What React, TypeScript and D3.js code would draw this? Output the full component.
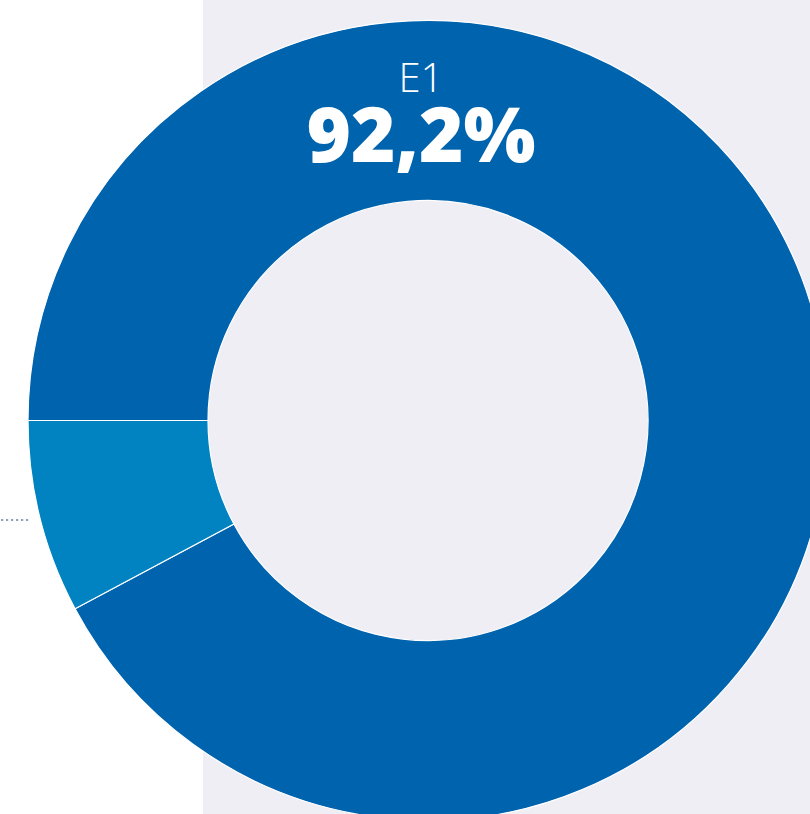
import React from "react";
import * as d3 from "d3";

const categories = ["E1", "Other"];
const values = [92.2, 7.8];
const colors = ["#0063AE", "#0083C0"];
const labelTitle = "E1";
const labelValue = "92,2%";

export default function App() {
  const W = 810, H = 814;
  const cx = 428, cy = 420.5, rO = 400, rI = 220;
  const pie = d3.pie<number>().sort(null).startAngle(1.5 * Math.PI).endAngle(3.5 * Math.PI);
  const arcs = pie(values);
  const arc = d3.arc<d3.PieArcDatum<number>>().innerRadius(rI).outerRadius(rO);
  return (
    <svg width={W} height={H} style={{ position: "absolute", left: 0, top: 0, display: "block" }}>
      <rect x={0} y={0} width={W} height={H} fill="#ffffff" />
      <rect x={203} y={0} width={W - 203} height={H} fill="#EFEEF5" />
      <line x1={1} x2={30} y1={520} y2={520} stroke="#8DA2B4" strokeWidth={2.2} strokeDasharray="2.2,2.8" />
      <g transform={`translate(${cx},${cy})`}>
        {arcs.map((a, i) => (
          <path key={categories[i]} d={arc(a) || ""} fill={colors[i]} stroke="#ffffff" strokeWidth={1.2} />
        ))}
      </g>
      <text x={421} y={92} textAnchor="middle" fill="#ffffff" fontFamily="'Open Sans', sans-serif" fontWeight={300} fontSize={40}>{labelTitle}</text>
      <text x={421} y={162} textAnchor="middle" fill="#ffffff" fontFamily="'Open Sans', sans-serif" fontWeight={800} fontSize={76}>{labelValue}</text>
    </svg>
  );
}
